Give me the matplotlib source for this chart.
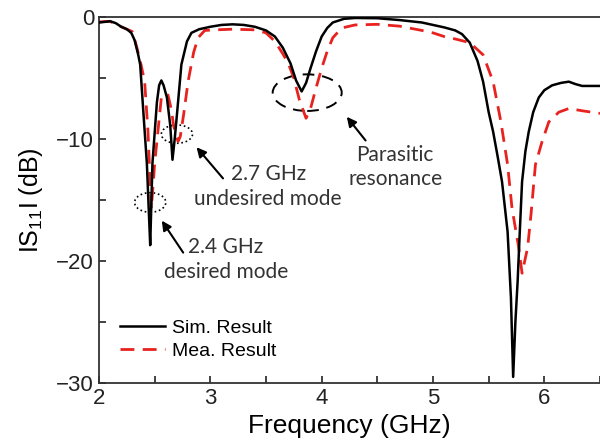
import matplotlib
matplotlib.use("Agg")
import matplotlib.pyplot as plt
from matplotlib.patches import Ellipse
from matplotlib.ticker import MultipleLocator

# Simulated |S11| (GHz, dB)
sim_freq = [2.00, 2.05, 2.10, 2.15, 2.20, 2.25, 2.29, 2.32, 2.35, 2.37, 2.40, 2.43, 2.45,
            2.46, 2.48, 2.52, 2.54, 2.56, 2.58, 2.61, 2.64, 2.66, 2.68, 2.70, 2.74, 2.79,
            2.83, 2.90, 3.00, 3.10, 3.20, 3.30, 3.40, 3.50, 3.58, 3.65, 3.72, 3.77,
            3.82, 3.86, 3.90, 3.95, 4.00, 4.05, 4.10, 4.20, 4.30, 4.50, 4.70, 4.90, 5.00,
            5.10, 5.20, 5.26, 5.33, 5.40, 5.45, 5.50, 5.54, 5.58, 5.62, 5.67,
            5.70, 5.72, 5.74, 5.76, 5.78, 5.80, 5.83, 5.86, 5.90, 5.95, 6.00, 6.07,
            6.15, 6.22, 6.28, 6.34, 6.42, 6.50]
sim_db = [-0.45, -0.4, -0.35, -0.5, -0.8, -1.0, -1.3, -1.9, -3.0, -3.9, -8.0, -12.0, -16.5,
          -18.7, -12.0, -7.0, -5.6, -5.2, -5.6, -6.6, -8.9, -11.7, -10.0, -8.0, -3.9, -2.0,
          -1.3, -1.0, -0.8, -0.65, -0.6, -0.65, -0.8, -1.1, -1.6, -2.5, -3.8, -5.2,
          -6.1, -5.4, -4.2, -2.8, -1.6, -0.9, -0.45, -0.15, -0.08, -0.1, -0.25, -0.45, -0.65,
          -0.85, -1.1, -1.4, -2.1, -3.6, -5.3, -7.8, -9.4, -11.4, -13.5, -17.6,
          -23.0, -29.5, -25.0, -21.7, -17.5, -13.5, -11.0, -9.4, -7.8, -6.6, -6.0, -5.6,
          -5.4, -5.3, -5.5, -5.65, -5.65, -5.65]

# Measured |S11| (GHz, dB)
mea_freq = [2.00, 2.10, 2.15, 2.20, 2.25, 2.30, 2.34, 2.38, 2.41, 2.44, 2.47, 2.48, 2.50,
            2.52, 2.56, 2.59, 2.62, 2.65, 2.67, 2.71, 2.73, 2.76, 2.80, 2.85, 2.89, 2.95,
            3.05, 3.20, 3.40, 3.50, 3.58, 3.65, 3.70, 3.75, 3.80, 3.86, 3.90, 3.95, 4.00,
            4.05, 4.10, 4.18, 4.30, 4.50, 4.70, 4.90, 5.00, 5.10, 5.20, 5.33, 5.45, 5.54,
            5.61, 5.67, 5.71, 5.77, 5.80, 5.85, 5.88, 5.92, 5.98, 6.04, 6.13, 6.22,
            6.35, 6.50]
mea_db = [-0.4, -0.35, -0.6, -0.8, -1.0, -1.2, -2.5, -4.0, -5.3, -9.4, -15.7, -14.5, -12.0,
          -10.2, -6.6, -6.3, -6.4, -7.6, -8.9, -10.2, -9.8, -8.0, -5.3, -2.9, -1.7, -1.1,
          -1.05, -1.0, -1.05, -1.3, -2.0, -3.0, -3.8, -5.0, -6.8, -8.3, -7.5, -5.8, -4.2,
          -2.8, -1.7, -0.9, -0.65, -0.6, -0.75, -1.1, -1.3, -1.6, -1.8, -2.1, -3.1, -5.3,
          -8.6, -12.1, -15.7, -18.9, -21.0, -18.9, -16.2, -12.1, -10.2, -8.6, -7.8, -7.5,
          -7.7, -7.9]

x_ticks = [2, 3, 4, 5, 6]
y_ticks = [0, -10, -20, -30]

plt.rcParams["font.family"] = ["Liberation Sans", "DejaVu Sans"]
plt.rcParams["mathtext.default"] = "regular"

fig = plt.figure(figsize=(6.0, 4.43), dpi=100)
ax = fig.add_axes([0.165, 0.1354, 0.835, 0.8262])

ax.plot(sim_freq, sim_db, color="black", lw=1.8, label="Sim. Result", zorder=3)
ax.plot(mea_freq, mea_db, color="#e8231f", lw=2.0, dashes=(5, 3),
        label="Mea. Result", zorder=2)

ax.set_xlim(2, 6.5)
ax.set_ylim(-30, 0)
ax.set_xticks(x_ticks)
ax.set_yticks(y_ticks)
ax.xaxis.set_minor_locator(MultipleLocator(0.5))
ax.yaxis.set_minor_locator(MultipleLocator(5))
ax.tick_params(which="both", direction="in", length=5, width=1.2,
               top=False, right=False, labelsize=16, colors="#222222")
ax.set_yticklabels(["0", "\u221210", "\u221220", "\u221230"])
for side in ("left", "bottom", "top"):
    ax.spines[side].set_linewidth(1.3)
    ax.spines[side].set_color("#333333")
ax.spines["right"].set_visible(False)

ax.set_xlabel("Frequency (GHz)", fontsize=19, labelpad=4)
ax.set_ylabel("IS$_{11}$I (dB)", fontsize=18, labelpad=8)

# Highlighted resonances
ax.add_patch(Ellipse((2.70, -9.6), 0.28, 1.5, fill=False, ls=":", lw=1.2, color="black"))
ax.add_patch(Ellipse((2.46, -15.2), 0.28, 1.6, fill=False, ls=":", lw=1.2, color="black"))
ax.add_patch(Ellipse((3.87, -6.2), 0.62, 3.0, fill=False, ls=(0, (6, 4)), lw=1.4, color="black"))

arrow = dict(arrowstyle="-|>", color="black", lw=1.5, mutation_scale=14)
ax.annotate("", xy=(2.86, -10.5), xytext=(3.13, -13.4), arrowprops=arrow)
ax.annotate("", xy=(2.55, -16.5), xytext=(2.77, -19.5), arrowprops=arrow)
ax.annotate("", xy=(4.21, -8.0), xytext=(4.41, -10.3), arrowprops=arrow)

note = dict(fontsize=15, family=["Lato", "DejaVu Sans"], color="#333333",
            ha="center", va="center", linespacing=1.3)
ax.text(3.52, -13.9, "2.7 GHz\nundesired mode", **note)
ax.text(3.14, -19.9, "2.4 GHz\ndesired mode", **note)
ax.text(4.66, -12.3, "Parasitic\nresonance", **note)

ax.legend(loc="center left", bbox_to_anchor=(0.042, 0.119), frameon=False,
          fontsize=14, handlelength=2.3, handletextpad=0.36, labelspacing=0.3,
          borderpad=0, borderaxespad=0)

fig.savefig("out.png", dpi=100)
